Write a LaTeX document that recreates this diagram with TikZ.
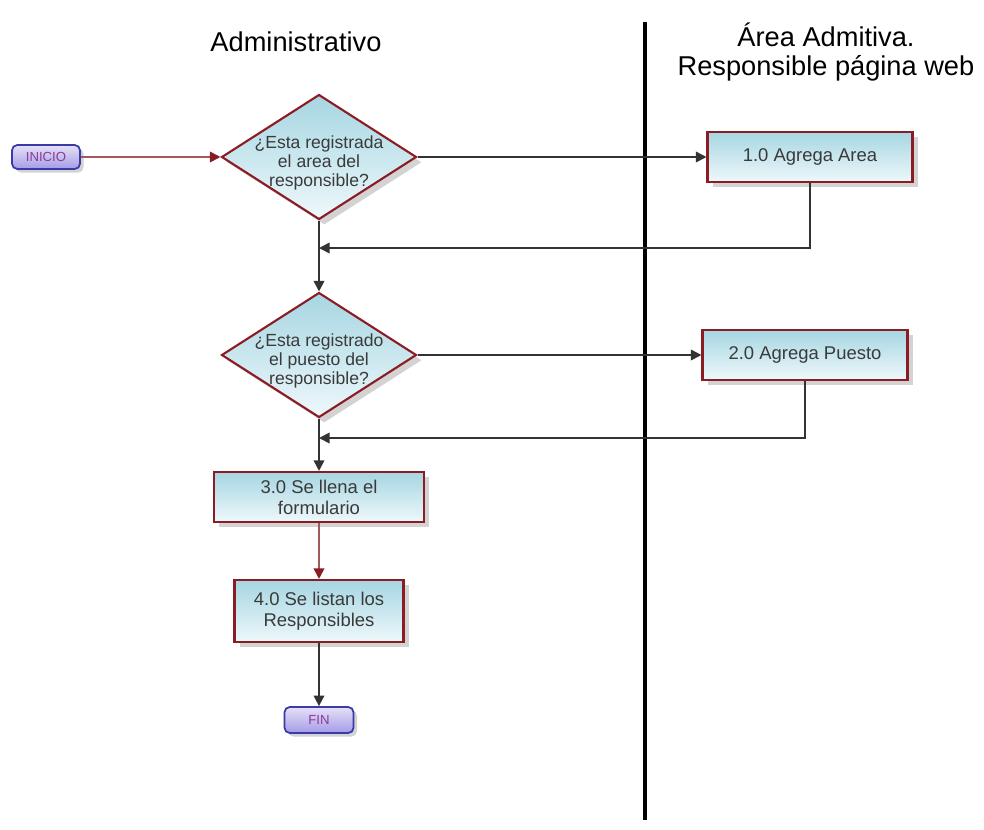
\documentclass[tikz,border=0pt]{standalone}
\usepackage{fontspec}
\setmainfont{Liberation Sans}
\usetikzlibrary{shapes.geometric,arrows.meta,shadows}

\definecolor{boxred}{HTML}{8B1C24}
\definecolor{boxtop}{HTML}{A6D6E2}
\definecolor{boxbot}{HTML}{EEF8FB}
\definecolor{linkred}{HTML}{A05A5A}
\definecolor{termtop}{HTML}{E6E0F8}
\definecolor{termbot}{HTML}{A49CE6}
\definecolor{termedge}{HTML}{3A3AA8}
\definecolor{termtext}{HTML}{8A3A9A}
\definecolor{txt}{HTML}{3A3A3A}

\newcommand{\dtext}[1]{\raisebox{-0.22cm}[0pt][0pt]{\makebox[0pt]{\begin{tabular}{@{}c@{}}#1\end{tabular}}}}

\begin{document}
\begin{tikzpicture}[x=0.02cm,y=-0.02cm,
   proc/.style={draw=boxred,line width=1.2pt,top color=boxtop,bottom color=boxbot,
      drop shadow={shadow xshift=3pt,shadow yshift=-3pt,opacity=0.35},
      text=txt,font=\fontsize{10.5}{12}\selectfont,align=center,inner sep=0pt},
   decide/.style={proc,diamond,font=\fontsize{10}{10.8}\selectfont},
   term/.style={draw=termedge,line width=1pt,rounded corners=3pt,top color=termtop,
      bottom color=termbot,drop shadow={shadow xshift=2pt,shadow yshift=-2pt,opacity=0.35},
      text=termtext,font=\fontsize{7.5}{8}\selectfont,inner sep=0pt},
   link/.style={draw=black!80,line width=1pt,-{Triangle[length=6pt,width=6pt]}},
   redlink/.style={draw=linkred,line width=1pt,-{Triangle[length=6pt,width=6pt,fill=boxred,color=boxred]}}
 ]
   \useasboundingbox (0,0) rectangle (984,829);

   % lanes
   \draw[line width=2.2pt] (645,22) -- (645,820);
   \node[font=\fontsize{15.5}{17}\selectfont] (admin) at (296,42) {Administrativo};
   \node[font=\fontsize{15.5}{17}\selectfont,align=center] (area) at (826,52) {Área Admitiva.\\Responsible página web};

   \node[term,minimum width=1.36cm,minimum height=0.48cm] (inicio) at (46,157) {INICIO};
   \node[decide,minimum width=3.9cm,minimum height=2.5cm] (d1) at (319,157)
      {\dtext{¿Esta registrada\\el area del\\responsible?}};
   \node[proc,minimum width=4.1cm,minimum height=1cm] (b1) at (810,157) {1.0 Agrega Area};
   \node[decide,minimum width=3.9cm,minimum height=2.5cm] (d2) at (319,355)
      {\dtext{¿Esta registrado\\el puesto del\\responsible?}};
   \node[proc,minimum width=4.1cm,minimum height=1cm] (b2) at (805,355) {2.0 Agrega Puesto};
   \node[proc,minimum width=4.2cm,minimum height=1cm] (b3) at (319,497) {3.0 Se llena el\\formulario};
   \node[proc,minimum width=3.38cm,minimum height=1.24cm] (b4) at (319,611) {4.0 Se listan los\\Responsibles};
   \node[term,minimum width=1.38cm,minimum height=0.52cm] (fin) at (319,720) {FIN};

   \coordinate (j1) at (319,248);
   \coordinate (j2) at (319,438);

   \draw[redlink] (inicio) -- (d1.west);
   \draw[link] (d1.east) -- (b1.west);
   \draw[link] (b1.south) |- (j1);
   \draw[link] (d1.south) -- (d2.north);
   \draw[link] (d2.east) -- (b2.west);
   \draw[link] (b2.south) |- (j2);
   \draw[link] (d2.south) -- (b3.north);
   \draw[redlink] (b3.south) -- (b4.north);
   \draw[link] (b4.south) -- (fin.north);
\end{tikzpicture}
\end{document}
